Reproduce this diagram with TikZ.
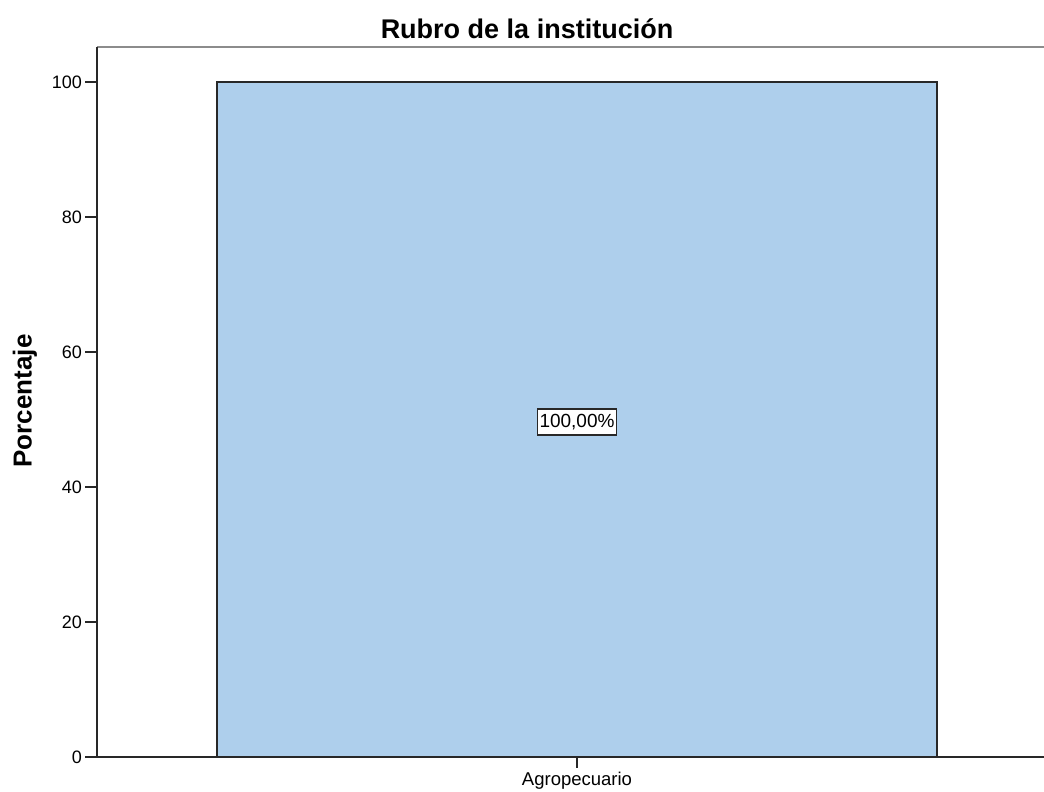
\documentclass[tikz,border=0pt]{standalone}
\usepackage{fontspec}
\setmainfont{Liberation Sans}
\definecolor{barfill}{RGB}{174,207,236}
\definecolor{axisc}{RGB}{40,40,40}
\definecolor{frameg}{RGB}{140,140,140}
\tikzset{
  ticklab/.style={anchor=east, inner sep=0pt, font=\fontsize{18}{20}\selectfont},
  axisline/.style={draw=axisc, line width=1.6pt},
  tickline/.style={draw=axisc, line width=1.4pt},
  barstyle/.style={draw=axisc, fill=barfill, line width=1.6pt},
  vallab/.style={draw=axisc, fill=white, line width=1.4pt, inner xsep=2pt, inner ysep=5pt, font=\fontsize{19}{21}\selectfont},
}
\begin{document}
\begin{tikzpicture}[x=1pt, y=-1pt]
\useasboundingbox (0,0) rectangle (1044,792);
% frame top line
\draw[draw=frameg, line width=2.6pt] (97,47) -- (1044,47);
% bar
\filldraw[barstyle] (217,757) rectangle (937,82);
% axes
\draw[axisline] (97,47) -- (97,757) -- (1044,757);
% y ticks
\foreach \v/\y in {0/757,20/622,40/487,60/352,80/217,100/82}{
  \draw[tickline] (85,\y) -- (97,\y);
  \node[ticklab] (t\v) at (82,\y) {\v};
}
% x tick
\coordinate (xt) at (577,757);
\draw[tickline] (xt) -- ++(0,11);
\node[font=\fontsize{18.5}{20}\selectfont, anchor=center] (xl) at (577,781) {Agropecuario};
% value label
\node[vallab] (val) at (577,422) {100,00\%};
% title
\node[font=\bfseries\fontsize{27}{30}\selectfont] (title) at (527,29) {Rubro de la institución};
% y label
\node[font=\bfseries\fontsize{26}{30}\selectfont, rotate=90] (ylab) at (25,401) {Porcentaje};
\end{tikzpicture}
\end{document}
